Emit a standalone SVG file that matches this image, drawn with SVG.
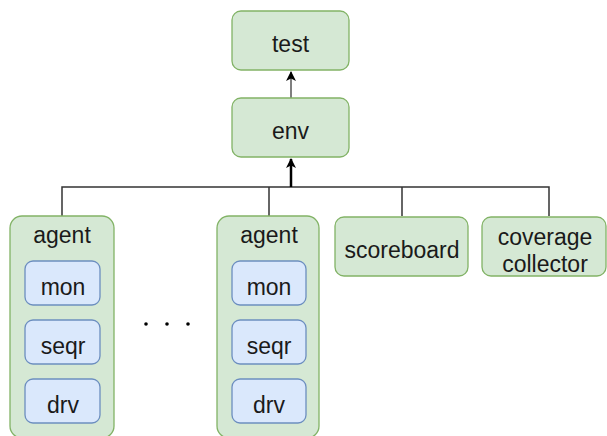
<svg xmlns="http://www.w3.org/2000/svg" width="607" height="436" viewBox="0 0 607 436">
  <defs>
    <style>
      .g { fill: #d5e8d4; stroke: #82b366; stroke-width: 1.3; }
      .b { fill: #dae8fc; stroke: #6c8ebf; stroke-width: 1.3; }
      text { font-family: "Liberation Sans", Arial, sans-serif; font-size: 23px; fill: #1a1a1a; text-anchor: middle; }
      .wire { fill: none; stroke: #333333; stroke-width: 1.5; }
    </style>
    <marker id="arrow" markerWidth="12" markerHeight="12" refX="10" refY="6" orient="auto" markerUnits="userSpaceOnUse">
      <path d="M1,1 L11,6 L1,11 L3.5,6 Z" fill="#000000"/>
    </marker>
  </defs>

  <rect x="0" y="0" width="607" height="436" fill="#ffffff"/>

  <!-- connectors -->
  <g id="connectors">
    <path class="wire" d="M62,216 V187 H549 V216"/>
    <path class="wire" d="M269,216 V187"/>
    <path class="wire" d="M402,216 V187"/>
    <path d="M291,187 V159" fill="none" stroke="#000000" stroke-width="2.5" marker-end="url(#arrow)"/>
    <path d="M291,98 V72" fill="none" stroke="#555555" stroke-width="1.5" marker-end="url(#arrow)"/>
  </g>

  <g id="test">
    <rect class="g" x="232" y="11" width="117" height="59" rx="9"/>
    <text x="290.5" y="52">test</text>
  </g>

  <g id="env">
    <rect class="g" x="232" y="98" width="117" height="59" rx="9"/>
    <text x="290.5" y="139">env</text>
  </g>

  <g id="agent1">
    <rect class="g" x="10" y="216" width="104" height="222" rx="12"/>
    <text x="62" y="243">agent</text>
    <rect class="b" x="25" y="261" width="75" height="44" rx="8"/>
    <text x="63" y="295">mon</text>
    <rect class="b" x="25" y="320" width="75" height="44" rx="8"/>
    <text x="63" y="354">seqr</text>
    <rect class="b" x="25" y="379" width="75" height="44" rx="8"/>
    <text x="63" y="413">drv</text>
  </g>

  <g id="ellipsis">
    <circle cx="146" cy="324" r="1.8" fill="#000000"/>
    <circle cx="167" cy="324" r="1.8" fill="#000000"/>
    <circle cx="188" cy="324" r="1.8" fill="#000000"/>
  </g>

  <g id="agent2">
    <rect class="g" x="217" y="216" width="102" height="222" rx="12"/>
    <text x="269" y="243">agent</text>
    <rect class="b" x="232" y="261" width="74" height="44" rx="8"/>
    <text x="269" y="295">mon</text>
    <rect class="b" x="232" y="320" width="74" height="44" rx="8"/>
    <text x="269" y="354">seqr</text>
    <rect class="b" x="232" y="379" width="74" height="44" rx="8"/>
    <text x="269" y="413">drv</text>
  </g>

  <g id="scoreboard">
    <rect class="g" x="335" y="217" width="133" height="59" rx="9"/>
    <text x="402" y="258">scoreboard</text>
  </g>

  <g id="coverage">
    <rect class="g" x="482" y="217" width="124" height="59" rx="9"/>
    <text x="545" y="245">coverage</text>
    <text x="545" y="272">collector</text>
  </g>
</svg>
